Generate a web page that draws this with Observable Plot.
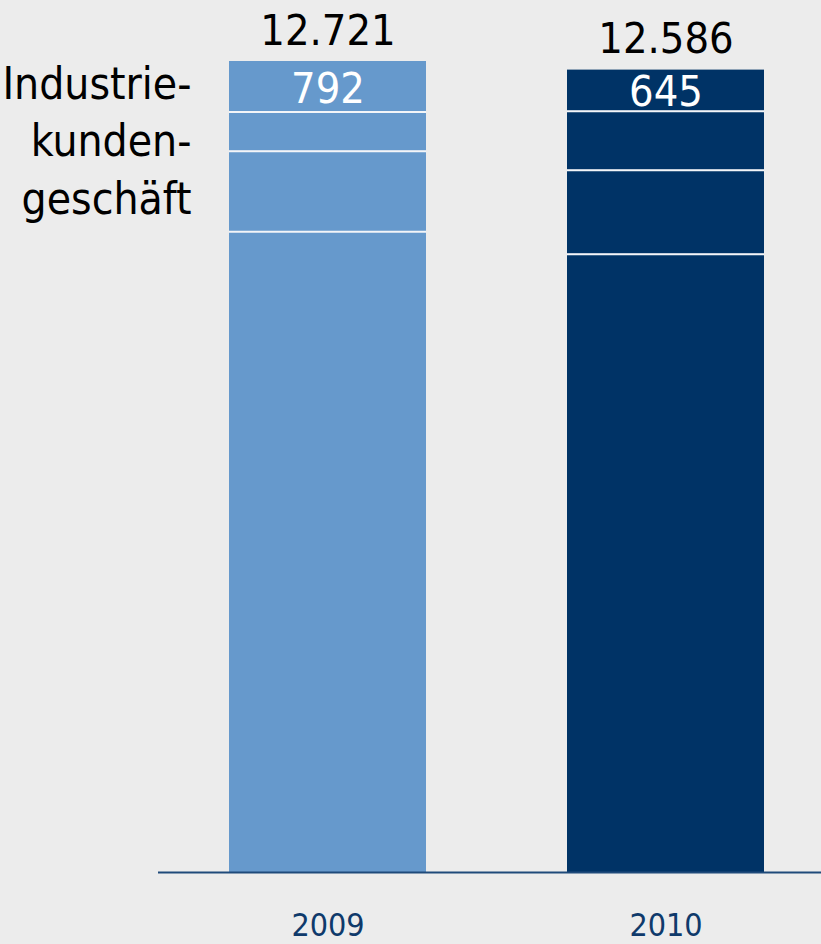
<!DOCTYPE html>
<html>
<head>
<meta charset="utf-8">
<script src="https://cdn.jsdelivr.net/npm/d3@7"></script>
<script src="https://cdn.jsdelivr.net/npm/@observablehq/plot@0.6"></script>
<style>
  html, body { margin: 0; padding: 0; background: #ECECEC; }
  #chart svg { display: block; }
</style>
</head>
<body>
<div id="chart"></div>
<script>
// Data
const years = ["2009", "2010"];
const totals = [12721, 12586];
const segBase = [10050, 9699];   // bottom segment
const seg3 = [1265, 1317];       // third from top
const seg2 = [614, 925];         // second from top
const segTop = [792, 645];       // top segment (labelled)
const barColors = ["#6699CC", "#003366"];
const sideLabel = "Industrie-\nkunden-\ngeschäft";

const fmt = d3.formatLocale({decimal: ",", thousands: ".", grouping: [3], currency: ["", " €"]}).format(",d");

// Long table, stacked bottom -> top
const rows = [];
years.forEach((year, i) => {
  rows.push({year, seg: "base", value: segBase[i]});
  rows.push({year, seg: "s3", value: seg3[i]});
  rows.push({year, seg: "s2", value: seg2[i]});
  rows.push({year, seg: "top", value: segTop[i]});
});

const font = "'DejaVu Sans Condensed', 'Liberation Sans Narrow', sans-serif";

const chart = Plot.plot({
  width: 821,
  height: 944,
  marginTop: 61,
  marginBottom: 72,
  marginLeft: 158,
  marginRight: 0,
  style: {background: "#ECECEC", fontFamily: font},
  x: {domain: years, paddingInner: 0.416, paddingOuter: 0.1859, align: 0.5556, axis: null},
  y: {domain: [0, d3.max(totals)], axis: null},
  color: {domain: years, range: barColors},
  marks: [
    Plot.barY(rows, {x: "year", y: "value", fill: "year"}),
    Plot.tickY(rows, Plot.stackY2({
      x: "year", y: "value",
      stroke: "#F3F5F8", strokeWidth: 2,
      strokeOpacity: d => d.seg === "top" ? 0 : 1
    })),
    Plot.ruleY([0], {stroke: "#1F4A7A", strokeWidth: 2}),
    Plot.axisX({
      tickSize: 0, tickPadding: 41, fontSize: 32, color: "#0F3A6B",
      label: null, textStroke: "none", letterSpacing: -0.3
    }),
    // totals above bars
    Plot.text(years, {
      x: d => d, y: (d, i) => totals[i],
      text: (d, i) => fmt(totals[i]),
      lineAnchor: "bottom", dy: -17, fontSize: 43, fill: "#000", letterSpacing: -2
    }),
    // top segment labels
    Plot.text(years, {
      x: d => d, y: (d, i) => totals[i] - segTop[i] / 2,
      text: (d, i) => fmt(segTop[i]),
      lineAnchor: "middle", dy: 2, fontSize: 43, fill: "white", letterSpacing: -2
    }),
    // side label
    Plot.text([sideLabel], {
      frameAnchor: "top-left", dx: 33, dy: -3,
      textAnchor: "end", lineAnchor: "top", lineHeight: 1.3,
      fontSize: 44, fill: "#000", letterSpacing: -1
    })
  ]
});

document.getElementById("chart").appendChild(chart);
</script>
</body>
</html>
